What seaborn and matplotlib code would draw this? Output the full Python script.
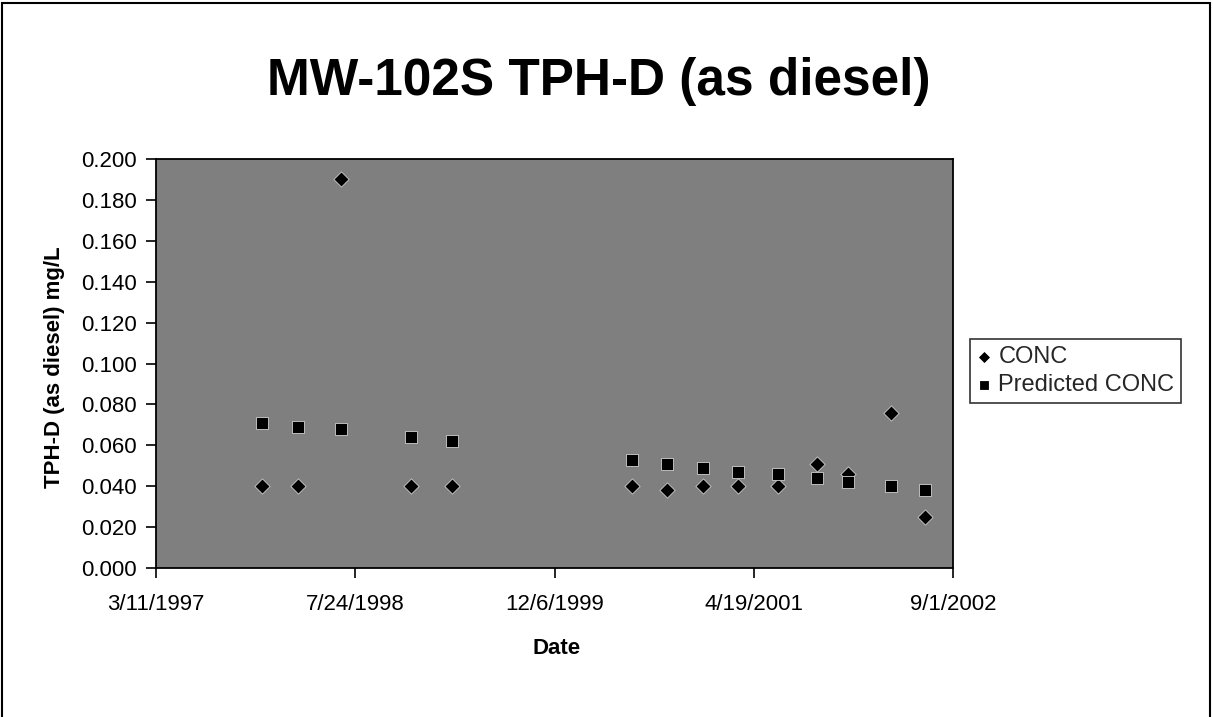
import pandas as pd
import matplotlib.pyplot as plt
import matplotlib.patches as patches
import seaborn as sns

# sampling dates and values
sample_dates = ['1997-12-01', '1998-03-03', '1998-06-18', '1998-12-10', '1999-03-25',
                '2000-06-18', '2000-09-13', '2000-12-12', '2001-03-11', '2001-06-19',
                '2001-09-25', '2001-12-12', '2002-03-29', '2002-06-23']
conc = [0.040, 0.040, 0.190, 0.040, 0.040,
        0.040, 0.038, 0.040, 0.040, 0.040,
        0.051, 0.046, 0.076, 0.025]
predicted_conc = [0.071, 0.069, 0.068, 0.064, 0.062,
                  0.053, 0.051, 0.049, 0.047, 0.046,
                  0.044, 0.042, 0.040, 0.038]

x_tick_dates = ['1997-03-11', '1998-07-24', '1999-12-06', '2001-04-19', '2002-09-01']
x_tick_labels = ['3/11/1997', '7/24/1998', '12/6/1999', '4/19/2001', '9/1/2002']
y_ticks = [0.000, 0.020, 0.040, 0.060, 0.080, 0.100, 0.120, 0.140, 0.160, 0.180, 0.200]

df = pd.DataFrame({
    'Date': pd.to_datetime(sample_dates),
    'CONC': conc,
    'Predicted CONC': predicted_conc,
})

sns.set_theme(style='white')
plt.rcParams['font.family'] = ['Liberation Sans', 'DejaVu Sans']

fig = plt.figure(figsize=(12.13, 7.17), dpi=100)
ax = fig.add_axes([0.1286, 0.2078, 0.6571, 0.5704])
ax.set_facecolor('#7f7f7f')

sns.scatterplot(data=df, x='Date', y='CONC', marker='D', s=60, color='black',
                edgecolor='#d0d0d0', linewidth=0.6, label='CONC', ax=ax, zorder=3)
sns.scatterplot(data=df, x='Date', y='Predicted CONC', marker='s', s=78, color='black',
                edgecolor='#d0d0d0', linewidth=0.6, label='Predicted CONC', ax=ax, zorder=4)

ax.set_xlim(pd.Timestamp(x_tick_dates[0]), pd.Timestamp(x_tick_dates[-1]))
ax.set_ylim(0, 0.2)
ax.set_xticks(pd.to_datetime(x_tick_dates))
ax.set_xticklabels(x_tick_labels)
ax.set_yticks(y_ticks)
ax.set_yticklabels([f'{v:.3f}' for v in y_ticks])
ax.tick_params(axis='both', direction='out', length=7, width=1.2, color='black',
               labelsize=16, labelcolor='black', bottom=True, left=True)
ax.tick_params(axis='x', pad=12)
ax.tick_params(axis='y', pad=7)

for sp in ax.spines.values():
    sp.set_color('black')
    sp.set_linewidth(1.3)

ax.set_xlabel('Date', fontsize=16, fontweight='bold', color='black')
ax.xaxis.label.set_verticalalignment('center')
ax.xaxis.set_label_coords(0.502, -0.198)
ax.set_ylabel('TPH-D (as diesel) mg/L', fontsize=16, fontweight='bold', color='black')
ax.yaxis.label.set_verticalalignment('center')
ax.yaxis.set_label_coords(-0.127, 0.491)

fig.text(0.494, 0.886, 'MW-102S TPH-D (as diesel)', ha='center', va='center',
         fontsize=37, fontweight='bold', color='black')

leg = ax.legend(loc='center left', bbox_to_anchor=(0.7997, 0.4826),
                bbox_transform=fig.transFigure, frameon=True, fancybox=False,
                fontsize=17, markerscale=0.65, handlelength=0.6, handletextpad=0.3,
                borderpad=0.3, labelspacing=0.25, borderaxespad=0)
leg.get_frame().set_edgecolor('black')
leg.get_frame().set_linewidth(1.2)
for h in leg.legend_handles:
    h.set_edgecolor('black')

# chart border
fig.patches.append(patches.Rectangle((0.0016, -0.01), 0.996, 1.0058, transform=fig.transFigure,
                                     fill=False, edgecolor='black', linewidth=1.5))

fig.savefig('out.png', dpi=100)
